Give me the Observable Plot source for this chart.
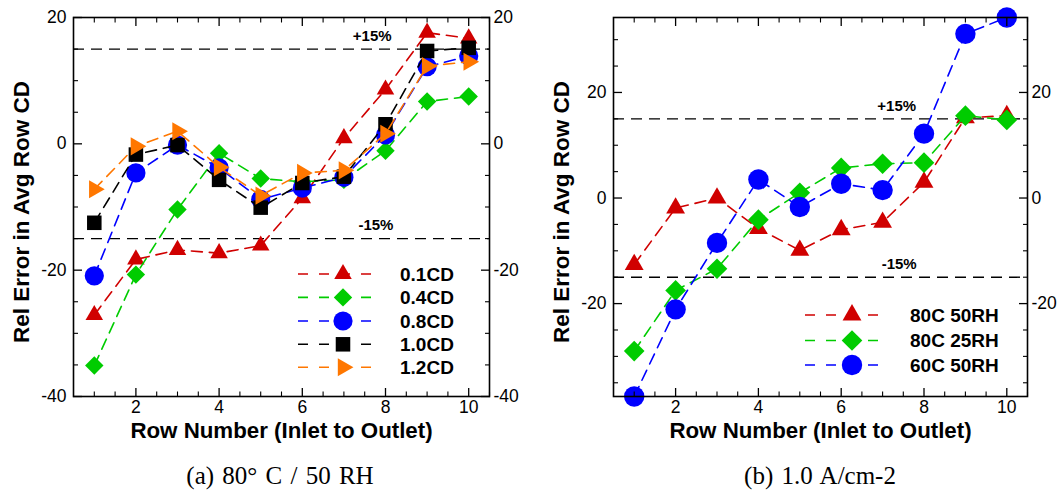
<!DOCTYPE html>
<html><head><meta charset="utf-8">
<script src="https://cdn.jsdelivr.net/npm/d3@7"></script>
<script src="https://cdn.jsdelivr.net/npm/@observablehq/plot@0.6"></script>
<style>
body{margin:0;background:#fff;width:1064px;height:491px;overflow:hidden;position:relative;font-family:"Liberation Sans",Arial,sans-serif}
.panel{position:absolute;top:0}
.cap{position:absolute;top:461px;line-height:30px;font-family:"Liberation Serif","Times New Roman",serif;font-size:25px;word-spacing:2px;white-space:nowrap;transform:translateX(-50%)}
#legend{position:absolute;left:0;top:0;pointer-events:none}
</style></head><body>
<div id="left" class="panel" style="left:0px"></div>
<div id="right" class="panel" style="left:540px"></div>
<div class="cap" style="left:280px">(a) 80° C / 50 RH</div>
<div class="cap" style="left:820px">(b) 1.0 A/cm-2</div>
<svg id="legend" width="1064" height="440"></svg>
<script>
// ---------- data ----------
const rows = [1, 2, 3, 4, 5, 6, 7, 8, 9, 10];

// panel (a) 80 C / 50 RH
const leftNames = ["0.1CD", "0.4CD", "0.8CD", "1.0CD", "1.2CD"];
const cd01 = [-27.1, -18.3, -16.8, -17.3, -16.1, -8.6, 0.9, 8.6, 17.6, 16.7];
const cd04 = [-35.1, -20.7, -10.4, -1.5, -5.5, -6.0, -5.7, -1.1, 6.7, 7.5];
const cd08 = [-20.9, -4.6, -0.2, -3.8, -8.8, -7.0, -5.3, 1.4, 12.2, 13.9];
const cd10 = [-12.5, -1.7, -0.2, -5.7, -10.1, -6.2, -5.2, 3.1, 14.7, 15.2];
const cd12 = [-7.2, -0.4, 2.0, -3.7, -8.2, -4.6, -4.2, 1.6, 12.3, 13.0];

// panel (b) 1.0 A/cm-2
const rightNames = ["80C 50RH", "80C 25RH", "60C 50RH"];
const c80rh50 = [-12.6, -1.9, 0.0, -5.8, -9.9, -6.0, -4.6, 3.0, 15.2, 15.6];
const c80rh25 = [-29.0, -17.5, -13.4, -4.1, 1.0, 5.7, 6.5, 6.7, 15.6, 14.8];
const c60rh50 = [-37.6, -21.1, -8.5, 3.5, -1.7, 2.7, 1.5, 12.2, 31.1, 34.2];

// thresholds and labels
const limits = [15, -15];
const limitLabels = ["+15%", "-15%"];
const leftLabelX = [7.68, 7.77];
const rightLabelX = [7.34, 7.4];

// axis ticks
const xMajor = [2, 4, 6, 8, 10];
const xMinor = [1, 1.5, 2.5, 3, 3.5, 4.5, 5, 5.5, 6.5, 7, 7.5, 8.5, 9, 9.5, 10.5];
const leftYMajor = [-40, -20, 0, 20];
const leftYMinor = [-35, -30, -25, -15, -10, -5, 5, 10, 15];
const rightYMajor = [-20, 0, 20];
const rightYMinor = [-35, -30, -25, -15, -10, -5, 5, 10, 15, 25, 30];

// ---------- styles ----------
const styles = {
  "0.1CD": {color: "#d00000", symbol: "triangle", rotate: 0, r: 6.5},
  "0.4CD": {color: "#00cc00", symbol: "diamond2", rotate: 0, r: 8.3},
  "0.8CD": {color: "#0000ff", symbol: "circle", rotate: 0, r: 9.6},
  "1.0CD": {color: "#000000", symbol: "square", rotate: 0, r: 8.2},
  "1.2CD": {color: "#ff7700", symbol: "triangle", rotate: 90, r: 6.7},
  "80C 50RH": {color: "#d00000", symbol: "triangle", rotate: 0, r: 7},
  "80C 25RH": {color: "#00cc00", symbol: "diamond2", rotate: 0, r: 9.3},
  "60C 50RH": {color: "#0000ff", symbol: "circle", rotate: 0, r: 10.2}
};
const d3sym = {triangle: d3.symbolTriangle, diamond2: d3.symbolDiamond2, circle: d3.symbolCircle, square: d3.symbolSquare};

function table(names, arrays) {
  return names.map((n, k) => rows.map((x, i) => ({series: n, x, y: arrays[k][i]})));
}
const leftData = table(leftNames, [cd01, cd04, cd08, cd10, cd12]);
const rightData = table(rightNames, [c80rh50, c80rh25, c60rh50]);

const fmt = d => String(d);
const font = "'Liberation Sans', Arial, Helvetica, sans-serif";

function panel(data, yDomain, yMajor, yMinor, labelX, width, mr) {
  const marks = [];
  marks.push(Plot.ruleY(limits, {stroke: "black", strokeWidth: 1.4, strokeDasharray: "11,7"}));
  marks.push(Plot.text(limits, {x: (d, i) => labelX[i], y: d => d, text: (d, i) => limitLabels[i], dy: -13, fontSize: 15, fontWeight: "bold", fill: "black"}));
  for (const s of data) {
    const st = styles[s[0].series];
    marks.push(Plot.line(s, {x: "x", y: "y", stroke: st.color, strokeWidth: 1.6, strokeDasharray: "11,7"}));
    marks.push(Plot.dot(s, {x: "x", y: "y", fill: st.color, stroke: "none", symbol: st.symbol, r: st.r, rotate: st.rotate}));
  }
  marks.push(Plot.frame({stroke: "black", strokeWidth: 1.6}));
  // ticks (inward)
  for (const anchor of ["bottom", "top"]) {
    marks.push(Plot.axisX(xMajor, {anchor, tickSize: -8, tickFormat: () => "", label: null, strokeWidth: 1.3}));
    marks.push(Plot.axisX(xMinor, {anchor, tickSize: -4.5, tickFormat: () => "", label: null, strokeWidth: 1.1}));
  }
  for (const anchor of ["left", "right"]) {
    marks.push(Plot.axisY(yMajor, {anchor, tickSize: -9, tickFormat: () => "", label: null, strokeWidth: 1.3}));
    marks.push(Plot.axisY(yMinor, {anchor, tickSize: -5, tickFormat: () => "", label: null, strokeWidth: 1.1}));
    marks.push(Plot.axisY(yMajor, {anchor, tickSize: 0, tickPadding: anchor === "left" ? 7 : 4, tickFormat: fmt, label: null, fontSize: 17.5}));
  }
  marks.push(Plot.axisX(xMajor, {anchor: "bottom", tickSize: 0, tickPadding: 4, tickFormat: fmt, label: null, fontSize: 17.5}));
  marks.push(Plot.text(["Row Number (Inlet to Outlet)"], {text: d => d, frameAnchor: "bottom", textAnchor: "middle", lineAnchor: "middle", dy: 34, fontSize: 22.3, fontWeight: "bold", fill: "black"}));
  marks.push(Plot.text(["Rel Error in Avg Row CD"], {text: d => d, frameAnchor: "left", textAnchor: "middle", lineAnchor: "middle", dx: -52, dy: 5, rotate: -90, fontSize: 22.5, fontWeight: "bold", fill: "black"}));
  return Plot.plot({
    width, height: 440,
    marginLeft: 73, marginRight: mr, marginTop: 17, marginBottom: 44,
    x: {domain: [0.5, 10.5]},
    y: {domain: yDomain},
    style: {fontFamily: font, fontSize: "17px", color: "black", background: "transparent", overflow: "visible"},
    marks
  });
}

const rightExtent = d3.extent([...c80rh50, ...c80rh25, ...c60rh50]);
document.getElementById("left").append(panel(leftData, [-40, 20], leftYMajor, leftYMinor, leftLabelX, 540, 51));
document.getElementById("right").append(panel(rightData, rightExtent, rightYMajor, rightYMinor, rightLabelX, 524, 37));

// ---------- legends ----------
const svg = d3.select("#legend");
function legend(names, x0, x1, xm, xt, ys) {
  names.forEach((n, i) => {
    const st = styles[n];
    const y = ys[i];
    svg.append("line").attr("x1", x0).attr("x2", x1).attr("y1", y).attr("y2", y)
      .attr("stroke", st.color).attr("stroke-width", 1.6).attr("stroke-dasharray", "10,11");
    const area = Math.PI * st.r ** 2;
    svg.append("path").attr("d", d3.symbol(d3sym[st.symbol], area)())
      .attr("transform", `translate(${xm},${y}) rotate(${st.rotate})`).attr("fill", st.color);
    svg.append("text").attr("x", xt).attr("y", y).attr("dy", "0.35em")
      .attr("font-family", font).attr("font-size", 19).attr("font-weight", "bold").text(n);
  });
}
legend(leftNames, 298, 377, 343, 400, [274, 297.4, 321, 344.3, 367.3]);
legend(rightNames, 805, 883, 852, 910, [315, 340.5, 365]);
</script>
</body></html>
